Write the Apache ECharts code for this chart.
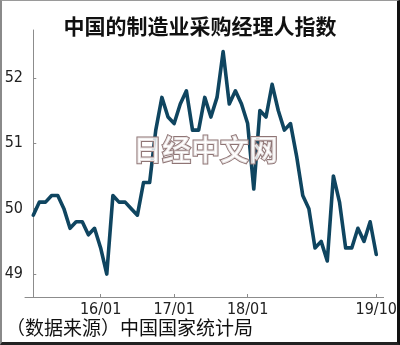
<!DOCTYPE html>
<html>
<head>
<meta charset="utf-8">
<script src="https://cdn.jsdelivr.net/npm/echarts@6/dist/echarts.min.js"></script>
<style>
html,body{margin:0;padding:0;background:#fff;}
#wrap{position:relative;width:400px;height:345px;}
#chart{position:absolute;left:0;top:0;width:400px;height:345px;}
#frame{position:absolute;left:0;top:0;width:400px;height:345px;box-sizing:border-box;
border-top:1px solid #9a9a9a;border-left:2px solid #8a8a8a;border-right:3px solid #111;border-bottom:3px solid #222;pointer-events:none;}
</style>
</head>
<body>
<div id="wrap"><div id="chart"></div><div id="frame"></div></div>
<script>
const categories = [
  '15/02','15/03','15/04','15/05','15/06','15/07','15/08','15/09','15/10','15/11','15/12',
  '16/01','16/02','16/03','16/04','16/05','16/06','16/07','16/08','16/09','16/10','16/11','16/12',
  '17/01','17/02','17/03','17/04','17/05','17/06','17/07','17/08','17/09','17/10','17/11','17/12',
  '18/01','18/02','18/03','18/04','18/05','18/06','18/07','18/08','18/09','18/10','18/11','18/12',
  '19/01','19/02','19/03','19/04','19/05','19/06','19/07','19/08','19/09','19/10'
];
const pmiValues = [
  49.9,50.1,50.1,50.2,50.2,50.0,49.7,49.8,49.8,49.6,49.7,
  49.4,49.0,50.2,50.1,50.1,50.0,49.9,50.4,50.4,51.2,51.7,51.4,
  51.3,51.6,51.8,51.2,51.2,51.7,51.4,51.7,52.4,51.6,51.8,51.6,
  51.3,50.3,51.5,51.4,51.9,51.5,51.2,51.3,50.8,50.2,50.0,49.4,
  49.5,49.2,50.5,50.1,49.4,49.4,49.7,49.5,49.8,49.3
];
const xTickLabels = ['16/01','17/01','18/01','19/10'];
const yTickValues = [49,50,51,52];
const titleText = '中国的制造业采购经理人指数';
const sourceText = '（数据来源）中国国家统计局';
const watermarkText = '日经中文网';

const xTickPos = xTickLabels.map(l => categories.indexOf(l));
const numFont = "'Liberation Sans Narrow','DejaVu Sans Condensed','Liberation Sans',sans-serif";
const cjkFont = "'Noto Sans CJK SC',sans-serif";

const chart = echarts.init(document.getElementById('chart'), null, {renderer:'canvas'});
chart.setOption({
  animation:false,
  backgroundColor:'#fff',
  title:{
    text:titleText,
    left:'center',
    top:11,
    textStyle:{fontFamily:cjkFont,fontSize:21,fontWeight:'bold',color:'#111'}
  },
  grid:{left:25,right:11,top:30,bottom:48},
  xAxis:{
    type:'value',
    min:-1.35,
    max:57.2,
    splitLine:{show:false},
    axisLine:{show:true,lineStyle:{color:'#8c8c8c',width:1}},
    axisTick:{show:true,inside:true,length:3,customValues:xTickPos,lineStyle:{color:'#8c8c8c'}},
    axisLabel:{
      customValues:xTickPos,
      margin:5,
      fontFamily:numFont,fontSize:16,color:'#222',
      formatter:v=>categories[Math.round(v)]
    }
  },
  yAxis:{
    type:'value',
    min:48.65,
    max:52.73,
    splitLine:{show:false},
    axisLine:{show:true,lineStyle:{color:'#8c8c8c',width:1}},
    axisTick:{show:true,inside:true,length:3,customValues:yTickValues,lineStyle:{color:'#8c8c8c'}},
    axisLabel:{
      customValues:yTickValues,
      margin:2,
      fontFamily:numFont,fontSize:16,color:'#222'
    }
  },
  series:[{
    type:'line',
    data:pmiValues.map((v,i)=>[i,v]),
    showSymbol:false,
    lineStyle:{color:'#0f4560',width:3.6,join:'round',cap:'round'},
    z:2
  }],
  graphic:[
    {
      type:'text',
      left:6,top:318,
      style:{text:sourceText,fontFamily:cjkFont,fontSize:19,fill:'#111'}
    },
    {
      type:'text',
      left:132,top:134,z:100,
      style:{text:watermarkText,fontFamily:cjkFont,fontSize:29,fontWeight:'bold',
        fill:'rgba(255,255,255,0.8)',stroke:'#8f7575',lineWidth:2}
    }
  ]
});
</script>
</body>
</html>
